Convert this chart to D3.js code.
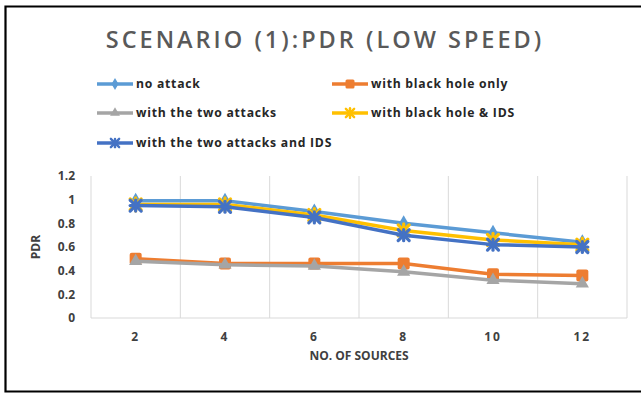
<!DOCTYPE html>
<html>
<head>
<meta charset="utf-8">
<script src="https://cdn.jsdelivr.net/npm/d3@7"></script>
<style>
  html, body { margin: 0; padding: 0; background: #fff; }
  svg { display: block; }
</style>
</head>
<body>
<svg id="chart" width="641" height="394"></svg>
<script>
// Number of sources (x categories)
const sources = ["2", "4", "6", "8", "10", "12"];
const yTicks = [0, 0.2, 0.4, 0.6, 0.8, 1, 1.2];

// PDR values for each scenario
const noAttack        = [0.99, 0.99, 0.90, 0.80, 0.72, 0.64];
const blackHoleOnly   = [0.50, 0.46, 0.46, 0.46, 0.37, 0.36];
const twoAttacks      = [0.48, 0.45, 0.44, 0.39, 0.32, 0.29];
const blackHoleIDS    = [0.96, 0.96, 0.87, 0.74, 0.66, 0.62];
const twoAttacksIDS   = [0.95, 0.94, 0.85, 0.70, 0.62, 0.60];

const seriesNames = ["no attack", "with black hole only", "with the two attacks",
                     "with black hole & IDS", "with the two attacks and IDS"];
const seriesColors = ["#5B9BD5", "#ED7D31", "#A5A5A5", "#FFC000", "#4472C4"];
const seriesMarkers = ["diamond", "square", "triangle", "star", "cross"];

const series = [noAttack, blackHoleOnly, twoAttacks, blackHoleIDS, twoAttacksIDS]
  .map((values, i) => ({ name: seriesNames[i], values, color: seriesColors[i], marker: seriesMarkers[i] }));

const svg = d3.select("#chart");
const font = "'Open Sans', 'Liberation Sans', sans-serif";

// Outer frame (open on the right side)
svg.append("path")
  .attr("d", "M660,6.5 H5.5 V391.5 H660")
  .attr("fill", "none").attr("stroke", "#000").attr("stroke-width", 2.2);

// Title
svg.append("text")
  .attr("x", 325).attr("y", 48)
  .attr("text-anchor", "middle")
  .attr("font-family", font).attr("font-weight", 600)
  .attr("font-size", 23.5).attr("letter-spacing", 3)
  .attr("fill", "#595959")
  .text("SCENARIO (1):PDR (LOW SPEED)");

const plot = { left: 91, right: 627, top: 176, bottom: 318 };

const x = d3.scaleBand().domain(sources).range([plot.left, plot.right]);
const y = d3.scaleLinear().domain([0, 1.2]).range([plot.bottom, plot.top]);

// Vertical category gridlines
const grid = svg.append("g");
const edges = sources.map(s => x(s)).concat([plot.right]);
grid.selectAll("line").data(edges).join("line")
  .attr("x1", d => d).attr("x2", d => d)
  .attr("y1", plot.top).attr("y2", plot.bottom)
  .attr("stroke", "#D9D9D9").attr("stroke-width", 1);
grid.append("line")
  .attr("x1", plot.left).attr("x2", plot.right)
  .attr("y1", plot.bottom).attr("y2", plot.bottom)
  .attr("stroke", "#D9D9D9").attr("stroke-width", 1);

// Y axis labels
const yAxis = d3.axisLeft(y).tickValues(yTicks).tickSize(0).tickPadding(16)
  .tickFormat(d => d3.format("~g")(d));
const yg = svg.append("g").attr("transform", `translate(${plot.left},0)`).call(yAxis);
yg.select(".domain").remove();
yg.selectAll("text")
  .attr("font-family", font).attr("font-weight", 700).attr("font-size", 12)
  .attr("fill", "#404040");

// X axis labels
const xAxis = d3.axisBottom(x).tickSize(0).tickPadding(14);
const xg = svg.append("g").attr("transform", `translate(0,${plot.bottom})`).call(xAxis);
xg.select(".domain").remove();
xg.selectAll("text")
  .attr("font-family", font).attr("font-weight", 700).attr("font-size", 12)
  .attr("letter-spacing", 2)
  .attr("fill", "#404040");

// Axis titles
svg.append("text")
  .attr("x", 359).attr("y", 360)
  .attr("text-anchor", "middle")
  .attr("font-family", font).attr("font-weight", 700).attr("font-size", 12)
  .attr("fill", "#404040")
  .text("NO. OF SOURCES");
svg.append("text")
  .attr("transform", `translate(40,${(plot.top + plot.bottom) / 2}) rotate(-90)`)
  .attr("text-anchor", "middle")
  .attr("font-family", font).attr("font-weight", 700).attr("font-size", 12)
  .attr("fill", "#404040")
  .text("PDR");

// Marker shapes
function drawMarker(g, type, color, cx, cy) {
  const m = g.append("g").attr("transform", `translate(${cx},${cy})`);
  if (type === "square") {
    m.append("rect").attr("x", -6).attr("y", -6).attr("width", 12).attr("height", 12)
      .attr("rx", 2).attr("fill", color);
  } else if (type === "diamond") {
    m.append("path").attr("d", d3.symbol(d3.symbolDiamond, 75)()).attr("fill", color);
  } else if (type === "triangle") {
    m.append("path").attr("d", d3.symbol(d3.symbolTriangle, 75)()).attr("fill", color);
  } else {
    // star (asterisk) and cross (X) markers
    const r = 5.5;
    const strokes = type === "star"
      ? [[-r, -r, r, r], [-r, r, r, -r], [0, -r - 1, 0, r + 1]]
      : [[-r, -r, r, r], [-r, r, r, -r], [0, -r, 0, r], [-r, 0, r, 0]];
    strokes.forEach(([x1, y1, x2, y2]) => {
      m.append("line").attr("x1", x1).attr("y1", y1).attr("x2", x2).attr("y2", y2)
        .attr("stroke", color).attr("stroke-width", 3.2).attr("stroke-linecap", "round");
    });
  }
}

const line = d3.line()
  .x((d, i) => x(sources[i]) + x.bandwidth() / 2)
  .y(d => y(d));

// Series lines and markers
series.forEach(s => {
  const g = svg.append("g");
  g.append("path").datum(s.values)
    .attr("d", line)
    .attr("fill", "none").attr("stroke", s.color)
    .attr("stroke-width", 3.5).attr("stroke-linejoin", "round");
  s.values.forEach((v, i) => {
    drawMarker(g, s.marker, s.color, x(sources[i]) + x.bandwidth() / 2, y(v));
  });
});

// Legend
const legendPos = [
  [97, 84], [332, 84], [97, 113], [332, 113], [97, 143]
];
series.forEach((s, i) => {
  const [lx, ly] = legendPos[i];
  const g = svg.append("g");
  g.append("line").attr("x1", lx).attr("x2", lx + 36).attr("y1", ly).attr("y2", ly)
    .attr("stroke", s.color).attr("stroke-width", 3.5);
  const mg = g.append("g").attr("transform", `translate(${lx + 18},${ly}) scale(0.75)`);
  drawMarker(mg, s.marker, s.color, 0, 0);
  g.append("text")
    .attr("x", lx + 39).attr("y", ly + 4)
    .attr("font-family", font).attr("font-weight", 700).attr("font-size", 12.2)
    .attr("letter-spacing", 0.75)
    .attr("fill", "#262626")
    .text(s.name);
});
</script>
</body>
</html>
